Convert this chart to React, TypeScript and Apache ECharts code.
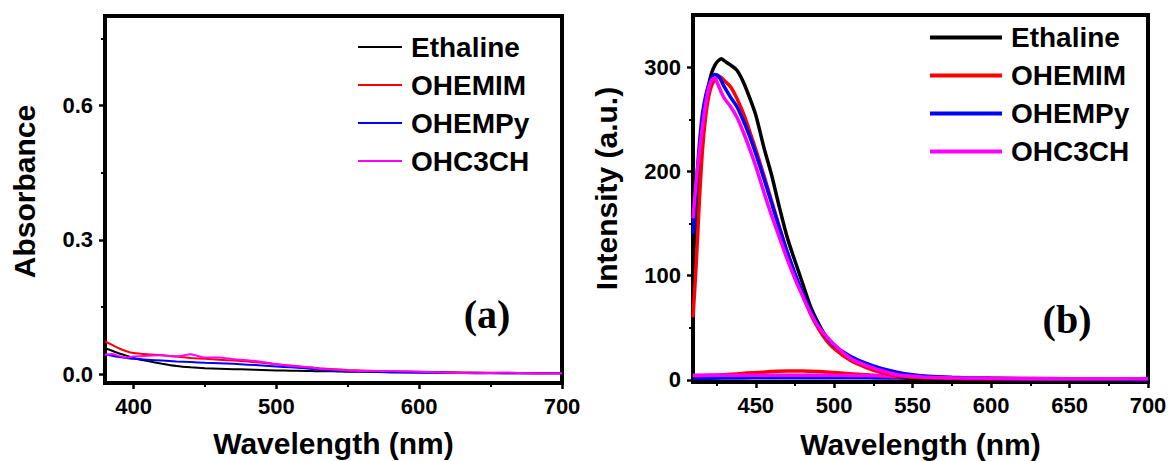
import React, { useEffect, useRef } from "react";
import * as echarts from "echarts";

// ---------- Panel (a): absorbance ----------
const absWavelength = [380, 385, 390, 395, 400, 410, 420, 430, 440, 450, 460, 470, 480, 490, 500, 510, 520, 530, 540, 550, 560, 580, 600, 620, 640, 660, 680, 700];
const absEthaline = [0.058, 0.052, 0.046, 0.041, 0.036, 0.029, 0.023, 0.018, 0.015, 0.013, 0.012, 0.011, 0.010, 0.009, 0.008, 0.0075, 0.007, 0.006, 0.006, 0.005, 0.005, 0.004, 0.004, 0.003, 0.003, 0.002, 0.002, 0.002];
const absOHEMIM = [0.073, 0.065, 0.057, 0.051, 0.047, 0.044, 0.042, 0.039, 0.036, 0.034, 0.032, 0.030, 0.028, 0.025, 0.022, 0.019, 0.016, 0.013, 0.011, 0.009, 0.008, 0.006, 0.005, 0.004, 0.003, 0.003, 0.002, 0.002];
const absOHEMPy = [0.045, 0.041, 0.038, 0.036, 0.034, 0.032, 0.030, 0.028, 0.027, 0.025, 0.024, 0.023, 0.021, 0.019, 0.017, 0.015, 0.013, 0.010, 0.008, 0.007, 0.006, 0.004, 0.003, 0.003, 0.002, 0.002, 0.002, 0.002];
const absOHC3CH = [0.043, 0.045, 0.040, 0.037, 0.039, 0.041, 0.042, 0.039, 0.044, 0.037, 0.037, 0.033, 0.031, 0.027, 0.022, 0.018, 0.016, 0.012, 0.010, 0.008, 0.007, 0.007, 0.005, 0.003, 0.002, 0.003, 0.002, 0.002];
const absXTicks = [400, 500, 600, 700];
const absXMinorTicks = [450, 550, 650];
const absYTicks = [0, 0.3, 0.6];
const absYMinorTicks = [0.15, 0.45, 0.75];

// ---------- Panel (b): emission ----------
const plWavelength = [410, 412, 414, 416, 418, 420, 422, 424, 426, 428, 430, 434, 438, 442, 446, 450, 455, 460, 465, 470, 475, 480, 485, 490, 495, 500, 510, 520, 530, 540, 550, 560, 575, 600, 625, 650, 675, 700];
const plEthaline = [110, 160, 205, 240, 265, 283, 295, 302, 306, 308, 306, 302, 297, 286, 271, 254, 224, 197, 166, 137, 114, 92, 70, 54, 41, 32, 20.5, 14, 9, 4, 1, 0.5, 0.3, 0.2, 0.2, 0.2, 0.2, 0.2];
const plOHEMIM = [60, 110, 170, 220, 252, 272, 283, 288, 291, 290, 287, 281, 270, 256, 239, 221, 197, 172, 147, 123, 101, 81, 63, 49, 38, 30, 19, 12, 7, 4, 2.5, 2, 1.5, 1, 1, 0.8, 0.6, 0.5];
const plOHEMPy = [140, 185, 225, 255, 272, 283, 290, 293, 292, 287, 281, 271, 262, 249, 234, 217, 194, 170, 146, 123, 102, 83, 66, 52, 41, 33, 23, 16, 11, 7.5, 5, 3.5, 2.5, 1.5, 1, 1, 0.8, 0.5];
const plOHC3CH = [155, 190, 218, 243, 264, 280, 288, 289, 283, 276, 270, 262, 252, 238, 222, 205, 181, 158, 137, 116, 97, 80, 64, 51, 42, 34, 21, 14, 9, 5, 3.5, 2.5, 2, 1.5, 1.2, 1.2, 1, 1];
const plBaseWavelength = [410, 430, 450, 470, 480, 490, 500, 520, 540, 560, 600, 650, 700];
const plBaseOHEMIM = [4, 5, 7, 8.5, 8.5, 8, 7, 5, 3, 2, 1.5, 1, 0.5];
const plBaseOHEMPy = [1.5, 1.8, 2, 2, 2, 2, 2, 2, 1.8, 1.5, 1, 0.8, 0.5];
const plBaseOHC3CH = [4.5, 4.5, 4.5, 4.5, 4.5, 4.5, 4.4, 4.2, 3.5, 2.5, 1.5, 1.2, 1];
const plXTicks = [450, 500, 550, 600, 650, 700];
const plXMinorTicks = [425, 475, 525, 575, 625, 675];
const plYTicks = [0, 100, 200, 300];
const plYMinorTicks = [50, 150, 250];

const seriesNames = ["Ethaline", "OHEMIM", "OHEMPy", "OHC3CH"];
const seriesColors = ["#000000", "#ff0000", "#0000ff", "#ff00ff"];

const FONT = "'Liberation Sans', Arial, sans-serif";

const pairs = (xs: number[], ys: number[]) => xs.map((x, i) => [x, ys[i]]);

function mainAxis(gridIndex: number, min: number, max: number, ticks: number[], name: string, nameGap: number, isY: boolean, fmt?: (v: number) => string, namePad?: number[]) {
  return {
    type: "value",
    gridIndex,
    min,
    max,
    position: isY ? "left" : "bottom",
    name,
    nameLocation: "middle",
    nameGap,
    nameTextStyle: { fontFamily: FONT, fontWeight: "bold", fontSize: 30, color: "#000", padding: namePad || 0 },
    axisLine: { show: true, onZero: false, lineStyle: { color: "#000", width: 4 } },
    axisTick: { show: true, inside: false, length: 6, customValues: ticks, lineStyle: { color: "#000", width: 2.5 } },
    axisLabel: {
      show: true,
      customValues: ticks,
      margin: 12,
      fontFamily: FONT,
      fontWeight: "bold",
      fontSize: 22,
      color: "#000",
      showMinLabel: true,
      showMaxLabel: true,
      formatter: fmt || ((v: number) => String(v)),
    },
    splitLine: { show: false },
    minorTick: { show: false },
  };
}

function minorAxis(gridIndex: number, min: number, max: number, ticks: number[], isY: boolean) {
  return {
    type: "value",
    gridIndex,
    min,
    max,
    position: isY ? "left" : "bottom",
    axisLine: { show: false, onZero: false },
    axisTick: { show: true, inside: false, length: 4, customValues: ticks, lineStyle: { color: "#000", width: 2 } },
    axisLabel: { show: false },
    splitLine: { show: false },
  };
}

export default function App() {
  const ref = useRef<HTMLDivElement>(null);
  useEffect(() => {
    document.body.style.margin = "0";
    if (!ref.current) return;
    const chart = echarts.init(ref.current, undefined, { renderer: "svg" });

    const absSeriesData = [absEthaline, absOHEMIM, absOHEMPy, absOHC3CH];
    const plSeriesData = [plEthaline, plOHEMIM, plOHEMPy, plOHC3CH];

    const series: any[] = [];
    seriesNames.forEach((n, i) => {
      series.push({
        type: "line",
        name: n,
        xAxisIndex: 0,
        yAxisIndex: 0,
        data: pairs(absWavelength, absSeriesData[i]),
        showSymbol: false,
        smooth: 0.2,
        lineStyle: { color: seriesColors[i], width: 2 },
        itemStyle: { color: seriesColors[i] },
        z: 2 + i,
      });
    });
    const baseData: Record<string, number[]> = { OHEMPy: plBaseOHEMPy, OHEMIM: plBaseOHEMIM, OHC3CH: plBaseOHC3CH };
    ["OHEMPy", "OHEMIM", "OHC3CH"].forEach((n) => {
      const i = seriesNames.indexOf(n);
      series.push({
        type: "line",
        name: n + " (blank)",
        xAxisIndex: 2,
        yAxisIndex: 2,
        data: pairs(plBaseWavelength, baseData[n]),
        showSymbol: false,
        smooth: 0.3,
        lineStyle: { color: seriesColors[i], width: 3.5 },
        itemStyle: { color: seriesColors[i] },
        z: 2,
      });
    });
    seriesNames.forEach((n, i) => {
      series.push({
        type: "line",
        name: n,
        xAxisIndex: 2,
        yAxisIndex: 2,
        data: pairs(plWavelength, plSeriesData[i]),
        showSymbol: false,
        smooth: 0.3,
        lineStyle: { color: seriesColors[i], width: 3.5 },
        itemStyle: { color: seriesColors[i] },
        z: 3 + i,
      });
    });

    const legendBase = {
      orient: "vertical",
      icon: "rect",
      selectedMode: false,
      padding: 0,
      itemGap: 10,
      data: seriesNames,
      textStyle: { fontFamily: FONT, fontWeight: "bold", fontSize: 28, lineHeight: 28, color: "#000", padding: [0, 0, 0, 4] },
    };

    chart.setOption({
      animation: false,
      backgroundColor: "#ffffff",
      grid: [
        { left: 105, top: 16, width: 457, height: 367, show: true, borderColor: "#000", borderWidth: 4, backgroundColor: "transparent", containLabel: false, outerBoundsMode: "none" },
        { left: 693, top: 15, width: 455, height: 367, show: true, borderColor: "#000", borderWidth: 4, backgroundColor: "transparent", containLabel: false, outerBoundsMode: "none" },
      ],
      xAxis: [
        mainAxis(0, 380, 700, absXTicks, "Wavelength (nm)", 45, false),
        minorAxis(0, 380, 700, absXMinorTicks, false),
        mainAxis(1, 410, 700, plXTicks, "Wavelength (nm)", 47, false),
        minorAxis(1, 410, 700, plXMinorTicks, false),
      ],
      yAxis: [
        mainAxis(0, -0.02, 0.8, absYTicks, "Absorbance", 66, true, (v: number) => v.toFixed(1), [0, 0, 0, 16]),
        minorAxis(0, -0.02, 0.8, absYMinorTicks, true),
        mainAxis(1, -2, 350, plYTicks, "Intensity (a.u.)", 72, true, undefined, [0, 0, 0, 20]),
        minorAxis(1, -2, 350, plYMinorTicks, true),
      ],
      legend: [
        { ...legendBase, left: 358, top: 33, itemWidth: 44, itemHeight: 2 },
        { ...legendBase, left: 930, top: 23.5, itemWidth: 72, itemHeight: 4 },
      ],
      graphic: [
        { type: "text", x: 487, y: 314, style: { text: "(a)", font: "bold 40px 'Liberation Serif', 'Times New Roman', serif", fill: "#000", textAlign: "center", textVerticalAlign: "middle" } },
        { type: "text", x: 1067, y: 319, style: { text: "(b)", font: "bold 40px 'Liberation Serif', 'Times New Roman', serif", fill: "#000", textAlign: "center", textVerticalAlign: "middle" } },
      ],
      series,
    });

    return () => chart.dispose();
  }, []);
  return <div ref={ref} style={{ width: 1171, height: 461 }} />;
}
